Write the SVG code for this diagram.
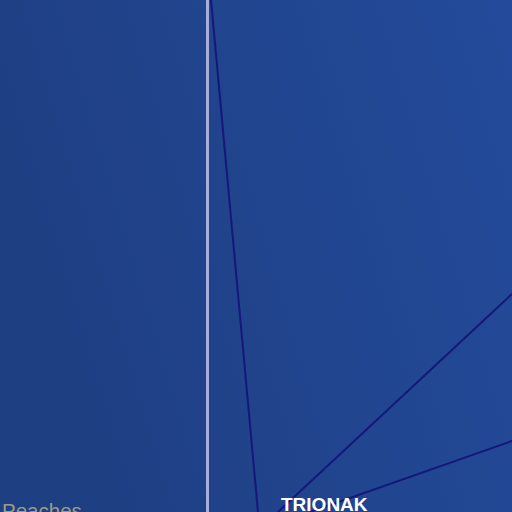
<svg xmlns="http://www.w3.org/2000/svg" width="512" height="512" viewBox="0 0 512 512">
  <defs>
    <linearGradient id="bg" x1="0" y1="0.3" x2="1" y2="0">
      <stop offset="0" stop-color="#1f3f83"/>
      <stop offset="1" stop-color="#234b9b"/>
    </linearGradient>
    <style>
      .ray { stroke: #15187a; stroke-width: 2; fill: none; }
      .lbl { font-family: "Liberation Sans", Arial, sans-serif; }
    </style>
  </defs>
  <rect width="512" height="512" fill="url(#bg)"/>
  <line x1="207.5" y1="0" x2="207.5" y2="512" stroke="#a9addb" stroke-width="3"/>
  <g id="connectors">
    <line class="ray" x1="211" y1="0" x2="258" y2="512"/>
    <line class="ray" x1="512" y1="294" x2="278" y2="512"/>
    <line class="ray" x1="512" y1="441" x2="310" y2="512"/>
  </g>
  <g id="peaches">
    <text class="lbl" x="2" y="518" font-size="20.5" fill="#9e9b84">Peaches</text>
  </g>
  <g id="trionak">
    <text class="lbl" x="281" y="511" font-size="19" font-weight="bold" fill="#ffffff">TRIONAK</text>
  </g>
</svg>
